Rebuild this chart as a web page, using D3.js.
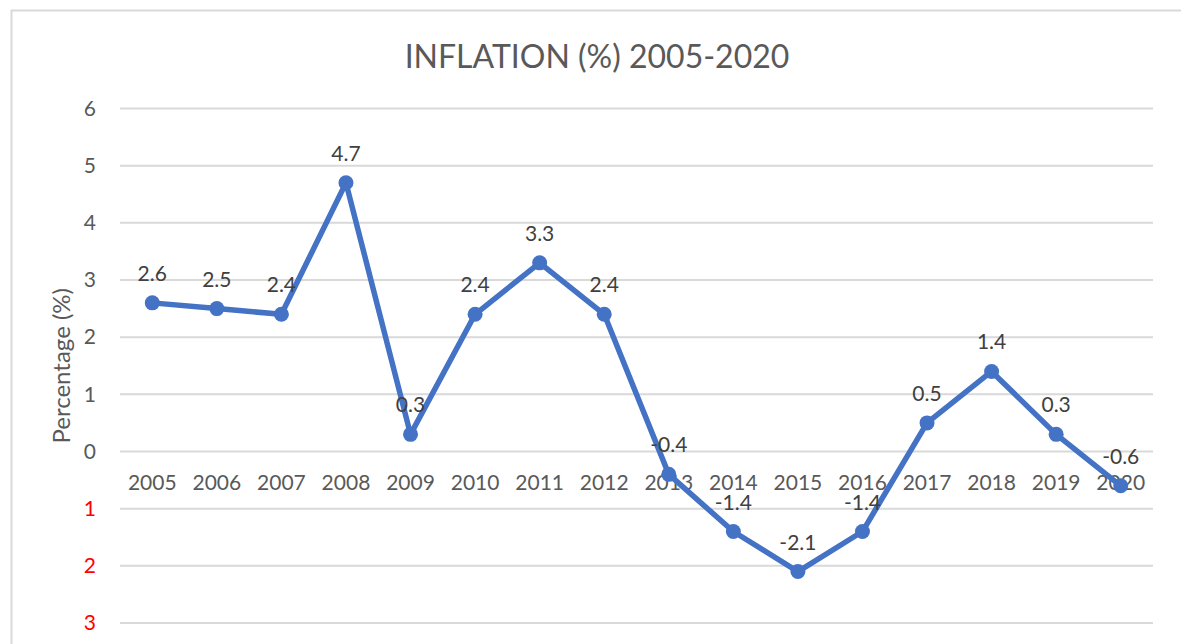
<!DOCTYPE html>
<html>
<head>
<meta charset="utf-8">
<script src="https://cdn.jsdelivr.net/npm/d3@7"></script>
<style>
  body{margin:0;background:#fff;}
  text{font-family:Lato,"Open Sans",sans-serif;}
</style>
</head>
<body>
<svg width="1181" height="644"></svg>
<script>
const years=['2005','2006','2007','2008','2009','2010','2011','2012','2013','2014','2015','2016','2017','2018','2019','2020'];
const inflation=[2.6,2.5,2.4,4.7,0.3,2.4,3.3,2.4,-0.4,-1.4,-2.1,-1.4,0.5,1.4,0.3,-0.6];
const yTicks=[6,5,4,3,2,1,0,-1,-2,-3];

const svg=d3.select('svg');
const width=+svg.attr('width');
const height=+svg.attr('height');
const margin={top:108.5,right:28,bottom:21,left:120};
const fs=21;

/* chart border */
svg.append('path')
   .attr('d',`M11.5,${height} V10.5 H${width}`)
   .attr('fill','none')
   .attr('stroke','#d9d9d9')
   .attr('stroke-width',2);

const xScale=d3.scaleBand()
   .domain(years)
   .range([margin.left,width-margin.right]);

const yScale=d3.scaleLinear()
   .domain([-3,6])
   .range([height-margin.bottom,margin.top]);

// gridlines
svg.append('g')
   .selectAll('line')
   .data(yTicks)
   .join('line')
     .attr('x1',margin.left)
     .attr('x2',width-margin.right)
     .attr('y1',d=>yScale(d))
     .attr('y2',d=>yScale(d))
     .attr('stroke','#d9d9d9')
     .attr('stroke-width',2);

// y tick labels, negatives red without sign
const yAxis=d3.axisLeft(yScale)
   .tickValues(yTicks)
   .tickSize(0)
   .tickPadding(24)
   .tickFormat(d=>Math.abs(d));
const gy=svg.append('g')
   .attr('transform',`translate(${margin.left},0)`)
   .call(yAxis);
gy.select('.domain').remove();
gy.selectAll('text')
   .attr('font-size',fs)
   .attr('font-family','Lato')
   .attr('fill',d=>d<0?'#ff0000':'#595959');

// category labels sit on the zero line
const xAxis=d3.axisBottom(xScale).tickSize(0).tickPadding(24);
const gx=svg.append('g')
   .attr('transform',`translate(0,${yScale(0)})`)
   .call(xAxis);
gx.select('.domain').remove();
gx.selectAll('text')
   .attr('font-size',fs)
   .attr('font-family','Lato')
   .attr('fill','#595959');

// title
svg.append('text')
   .attr('x',597)
   .attr('y',68)
   .attr('text-anchor','middle')
   .attr('font-size',32)
   .attr('fill','#595959')
   .text('INFLATION (%) 2005-2020');

// y title
svg.append('text')
   .attr('transform',`translate(70,${(yScale(6)+yScale(-3))/2}) rotate(-90)`)
   .attr('text-anchor','middle')
   .attr('font-size',24)
   .attr('fill','#595959')
   .text('Percentage (%)');

const cx=d=>xScale(d)+xScale.bandwidth()/2;
const pts=years.map((y,i)=>({year:y,v:inflation[i]}));

const line=d3.line()
   .x(d=>cx(d.year))
   .y(d=>yScale(d.v));

svg.append('path')
   .datum(pts)
   .attr('d',line)
   .attr('fill','none')
   .attr('stroke','#4472c4')
   .attr('stroke-width',5.5)
   .attr('stroke-linejoin','round');

svg.append('g')
   .selectAll('circle')
   .data(pts)
   .join('circle')
     .attr('cx',d=>cx(d.year))
     .attr('cy',d=>yScale(d.v))
     .attr('r',7.5)
     .attr('fill','#4472c4');

// data labels
svg.append('g')
   .selectAll('text')
   .data(pts)
   .join('text')
     .attr('x',d=>cx(d.year))
     .attr('y',d=>yScale(d.v)-22)
     .attr('text-anchor','middle')
     .attr('font-size',fs)
     .attr('fill','#404040')
     .text(d=>d.v.toFixed(1));
</script>
</body>
</html>
